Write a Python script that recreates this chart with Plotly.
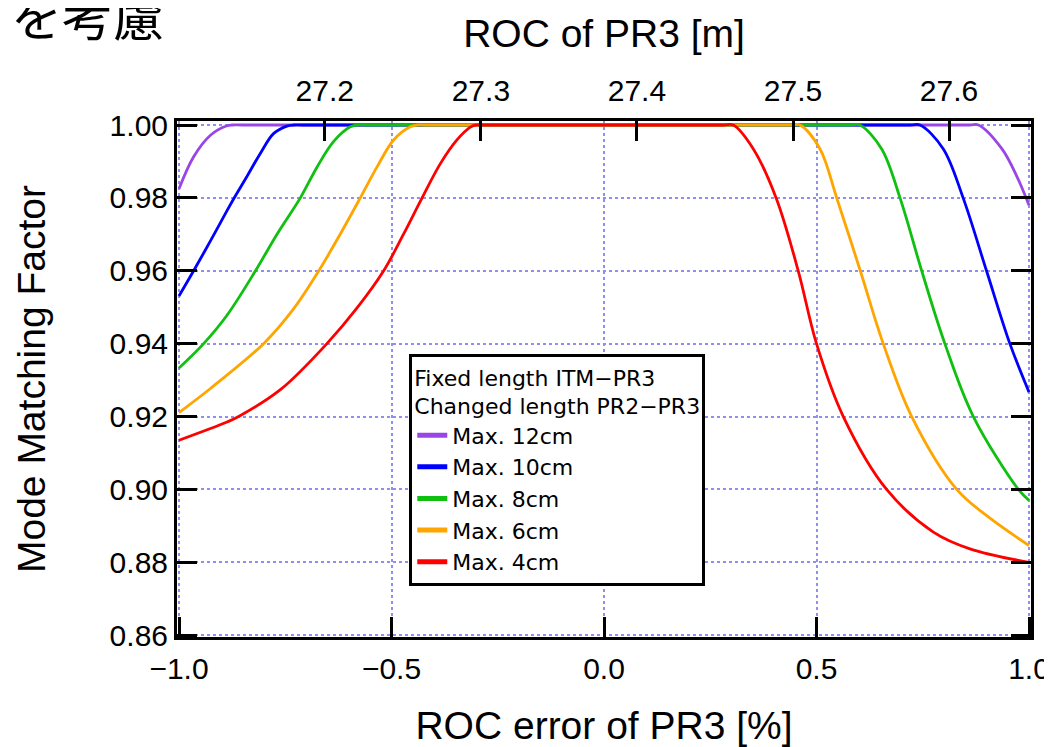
import plotly.graph_objects as go

# ROC error of PR3 [%] -> mode matching factor
max_12cm_x = [-1.0, -0.9655, -0.926, -0.887, -0.875, -0.85, 0.0, 0.86, 0.881, 0.936, 0.971, 1.0]
max_12cm_y = [0.9825, 0.9913, 0.9972, 0.9998, 1.0, 1.0, 1.0, 1.0, 1.0, 0.9935, 0.986, 0.978]

max_10cm_x = [-1.0, -0.9655, -0.926, -0.887, -0.8675, -0.840, -0.8087, -0.777, -0.746, -0.730,
              -0.71, 0.0, 0.72, 0.7435, 0.798, 0.845, 0.900, 0.955, 1.0]
max_10cm_y = [0.9531, 0.960, 0.9682, 0.9765, 0.9805, 0.9859, 0.9922, 0.9977, 0.9997, 1.0,
              1.0, 1.0, 1.0, 1.0, 0.9935, 0.980, 0.960, 0.940, 0.9267]

max_8cm_x = [-1.0, -0.942, -0.887, -0.820, -0.769, -0.7145, -0.675, -0.636, -0.597, -0.582,
             -0.56, 0.0, 0.58, 0.602, 0.653, 0.6965, 0.7475, 0.802, 0.869, 0.975, 1.0]
max_8cm_y = [0.9333, 0.940, 0.9478, 0.960, 0.9701, 0.980, 0.9885, 0.9955, 0.9995, 1.0,
             1.0, 1.0, 1.0, 1.0, 0.9935, 0.980, 0.960, 0.940, 0.920, 0.900, 0.897]

max_6cm_x = [-1.0, -0.926, -0.801, -0.730, -0.671, -0.6204, -0.5734, -0.534, -0.495, -0.456,
             -0.440, -0.42, 0.0, 0.44, 0.461, 0.508, 0.5475, 0.603, 0.657, 0.724, 0.830,
             0.9005, 1.0]
max_6cm_y = [0.9211, 0.9277, 0.940, 0.9496, 0.960, 0.9701, 0.980, 0.9885, 0.9959, 0.9995,
             1.0, 1.0, 1.0, 1.0, 1.0, 0.9935, 0.980, 0.960, 0.940, 0.920, 0.900,
             0.8928, 0.8846]

max_4cm_x = [-1.0, -0.887, -0.8596, -0.76, -0.652, -0.581, -0.5184, -0.4714, -0.428, -0.385,
             -0.346, -0.3146, -0.3035, -0.28, 0.0, 0.28, 0.304, 0.351, 0.405, 0.457, 0.500,
             0.563, 0.665, 0.775, 0.861, 1.0]
max_4cm_y = [0.9135, 0.9185, 0.920, 0.9275, 0.940, 0.9498, 0.960, 0.9701, 0.980, 0.9894,
             0.9959, 0.9994, 1.0, 1.0, 1.0, 1.0, 1.0, 0.9935, 0.980, 0.960, 0.940,
             0.920, 0.900, 0.8883, 0.8837, 0.880]

series_names = ['Max. 12cm', 'Max. 10cm', 'Max. 8cm', 'Max. 6cm', 'Max. 4cm']
series_colors = ['#9a46e6', '#0000ff', '#10c010', '#ffa500', '#ff0000']
series_x = [max_12cm_x, max_10cm_x, max_8cm_x, max_6cm_x, max_4cm_x]
series_y = [max_12cm_y, max_10cm_y, max_8cm_y, max_6cm_y, max_4cm_y]

error_ticks = [-1.0, -0.5, 0.0, 0.5, 1.0]
roc_ticks = [27.2, 27.3, 27.4, 27.5, 27.6]
mmf_ticks = [0.86, 0.88, 0.90, 0.92, 0.94, 0.96, 0.98, 1.00]

TICK_FONT = dict(family='Liberation Sans, Arial, sans-serif', size=30, color='black')
TITLE_FONT = dict(family='Liberation Sans, Arial, sans-serif', size=39, color='black')
LEGEND_FONT = dict(family='DejaVu Sans, sans-serif', size=22, color='black')
GRID = dict(showgrid=True, gridcolor='#8f8ff2', griddash='dot', gridwidth=1.5)
TICKS = dict(ticks='inside', ticklen=20, tickwidth=2.5, tickcolor='black',
             zeroline=False, automargin=False)

fig = go.Figure()

for name, color, xs, ys in zip(series_names, series_colors, series_x, series_y):
    fig.add_trace(go.Scatter(
        x=xs, y=ys, mode='lines', name=name, showlegend=False,
        line=dict(color=color, width=2.8, shape='spline', smoothing=1.0)))

# legend samples (thicker than the curves, as in the original)
for name, color in zip(series_names, series_colors):
    fig.add_trace(go.Scatter(
        x=[None], y=[None], mode='lines', name=name,
        line=dict(color=color, width=5)))

# empty trace so that the ROC [m] axis on top gets drawn
fig.add_trace(go.Scatter(x=[roc_ticks[0]], y=[None], xaxis='x2', mode='lines',
                         showlegend=False, hoverinfo='skip'))

# page body keeps its default 8px margin, so the figure is 8px smaller
fig.update_layout(
    width=1044, height=739,
    margin=dict(l=169, r=21, t=113, b=110),
    paper_bgcolor='white', plot_bgcolor='white',
    showlegend=True,
    legend=dict(
        x=0.272, y=0.548, xanchor='left', yanchor='top',
        bgcolor='white', bordercolor='black', borderwidth=3,
        font=LEGEND_FONT,
        title=dict(text='Fixed length ITM\u2212PR3<br>Changed length PR2\u2212PR3',
                   font=LEGEND_FONT, side='top'),
    ),
    xaxis=dict(
        range=[-1.0047, 1.0047], tickvals=error_ticks, tickformat='.1f',
        showline=True, linecolor='black', linewidth=3, mirror=True,
        tickfont=TICK_FONT, ticklabelstandoff=3,
        title=dict(text='ROC error of PR3 [%]', font=TITLE_FONT, standoff=34),
        **TICKS, **GRID),
    xaxis2=dict(
        overlaying='x', side='top', anchor='y',
        range=[27.1053, 27.6525], tickvals=roc_ticks, tickformat='.1f',
        showline=False, showgrid=False,
        tickfont=TICK_FONT, ticklabelstandoff=13,
        title=dict(text='ROC of PR3 [m]', font=TITLE_FONT, standoff=14),
        **TICKS),
    yaxis=dict(
        range=[0.8595, 1.0011], tickvals=mmf_ticks, tickformat='.2f',
        showline=True, linecolor='black', linewidth=3, mirror='ticks',
        tickfont=TICK_FONT, ticklabelstandoff=0,
        title=dict(text='Mode Matching Factor', font=TITLE_FONT, standoff=52),
        **TICKS, **GRID),
)

# slide heading cut off at the top edge
fig.add_annotation(
    text='を考慮', xref='paper', yref='paper', x=-0.197, y=1.132,
    xanchor='left', yanchor='bottom', showarrow=False,
    font=dict(family='Noto Sans CJK JP', size=51, color='black'))

fig.write_html('out.html')
